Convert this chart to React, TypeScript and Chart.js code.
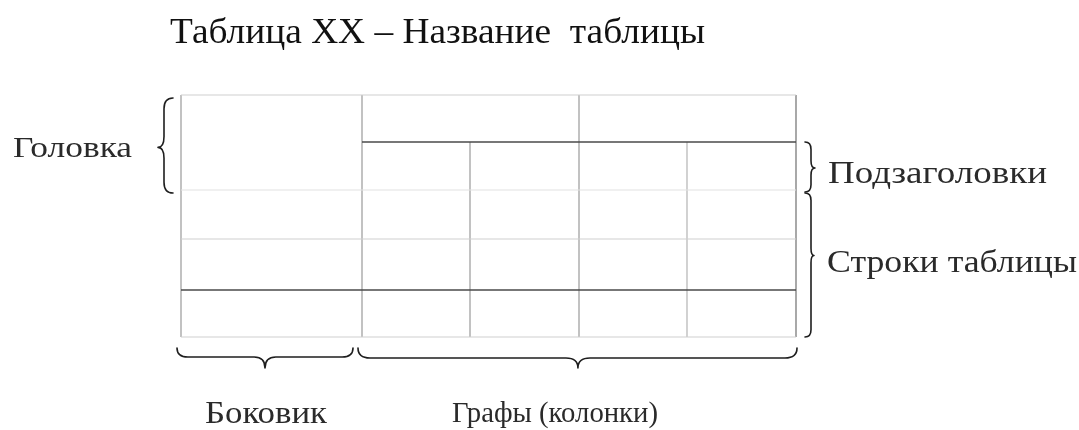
import { useEffect, useRef } from "react";
import { Chart, registerables } from "chart.js";

Chart.register(...registerables);

const W = 1079;
const H = 430;

// Table structure (chart units = canvas pixels of the reference)
const columnEdges = [181, 362, 470, 579, 687, 796];
const rowEdges = [95, 142, 190, 239, 290, 337];

// horizontal rules: [rowIndex, fromColumn, toColumn, tone]
const horizontalRules: [number, number, number, string][] = [
  [0, 0, 5, "faint"],
  [1, 1, 5, "dark"],
  [2, 0, 5, "faint2"],
  [3, 0, 5, "faint"],
  [4, 0, 5, "dark"],
  [5, 0, 5, "faint"],
];

// vertical rules: [columnIndex, fromRow, toRow, tone]
const verticalRules: [number, number, number, string][] = [
  [0, 0, 5, "mid"],
  [1, 0, 5, "mid"],
  [2, 1, 5, "mid"],
  [3, 0, 5, "mid"],
  [4, 1, 5, "light"],
  [5, 0, 5, "edge"],
];

const tones: Record<string, string> = {
  faint: "#cfcfcf",
  faint2: "#e2e2e2",
  dark: "#4a4a4a",
  mid: "#9a9a9a",
  light: "#b4b4b4",
  edge: "#707070",
};

// Labels
const titleText = "Таблица XX – Название  таблицы";
const labelTexts = ["Головка", "Подзаголовки", "Строки таблицы", "Боковик", "Графы (колонки)"];

// text layout: [x start, x end, baseline, font size]
const titleLayout: [number, number, number, number] = [170, 705, 43, 36];
const labelLayouts: [number, number, number, number][] = [
  [13, 132, 157, 29],
  [828, 1047, 183, 31],
  [827, 1077, 272, 32],
  [205, 327, 423, 31],
  [452, 658, 422, 29],
];

// Braces: from, to, spine offset, tip offset, tip position (fraction)
const braces = [
  { from: [173, 98], to: [173, 193], spine: 9, tip: 15, at: 0.52 },
  { from: [805, 192], to: [805, 142], spine: 6, tip: 10, at: 0.48 },
  { from: [805, 337], to: [805, 193], spine: 6, tip: 9, at: 0.566 },
  { from: [177, 348], to: [353, 348], spine: 9, tip: 20, at: 0.5 },
  { from: [358, 348], to: [797, 348], spine: 10, tip: 20, at: 0.501 },
];

function buildDatasets() {
  const ds: any[] = [];
  for (const [r, c0, c1, tone] of horizontalRules) {
    ds.push({
      data: [
        { x: columnEdges[c0], y: rowEdges[r] },
        { x: columnEdges[c1], y: rowEdges[r] },
      ],
      showLine: true,
      borderColor: tones[tone],
      borderWidth: tone === "dark" ? 1.5 : 1.2,
      pointRadius: 0,
    });
  }
  for (const [c, r0, r1, tone] of verticalRules) {
    ds.push({
      data: [
        { x: columnEdges[c], y: rowEdges[r0] },
        { x: columnEdges[c], y: rowEdges[r1] },
      ],
      showLine: true,
      borderColor: tones[tone],
      borderWidth: 1.2,
      pointRadius: 0,
    });
  }
  return ds;
}

const bracePlugin = {
  id: "braces",
  afterDatasetsDraw(chart: any) {
    const { ctx, scales } = chart;
    const px = (v: number) => scales.x.getPixelForValue(v);
    const py = (v: number) => scales.y.getPixelForValue(v);
    ctx.save();
    ctx.strokeStyle = "#1e1e1e";
    ctx.lineWidth = 1.6;
    ctx.lineCap = "round";
    ctx.lineJoin = "round";
    for (const b of braces) {
      const x1 = px(b.from[0]);
      const y1 = py(b.from[1]);
      const x2 = px(b.to[0]);
      const y2 = py(b.to[1]);
      const L = Math.hypot(x2 - x1, y2 - y1);
      const ang = Math.atan2(y2 - y1, x2 - x1);
      const h = b.spine;
      const d = b.tip;
      const t = b.at * L;
      const q = Math.min(h * 1.2, L / 6);
      ctx.save();
      ctx.translate(x1, y1);
      ctx.rotate(ang);
      ctx.beginPath();
      ctx.moveTo(0, 0);
      ctx.quadraticCurveTo(0, h, q, h);
      ctx.lineTo(t - q, h);
      ctx.quadraticCurveTo(t, h, t, d);
      ctx.quadraticCurveTo(t, h, t + q, h);
      ctx.lineTo(L - q, h);
      ctx.quadraticCurveTo(L, h, L, 0);
      ctx.stroke();
      ctx.restore();
    }
    ctx.restore();
  },
};

function drawFitted(ctx: any, text: string, x0: number, x1: number, base: number, size: number) {
  ctx.save();
  ctx.font = `${size}px "Liberation Serif", "DejaVu Serif", serif`;
  ctx.textBaseline = "alphabetic";
  ctx.textAlign = "left";
  const w = ctx.measureText(text).width;
  const sx = (x1 - x0) / w;
  ctx.translate(x0, base);
  ctx.scale(sx, 1);
  ctx.fillText(text, 0, 0);
  ctx.restore();
}

const textPlugin = {
  id: "labels",
  afterDraw(chart: any) {
    const { ctx, scales } = chart;
    const px = (v: number) => scales.x.getPixelForValue(v);
    const py = (v: number) => scales.y.getPixelForValue(v);
    ctx.save();
    ctx.fillStyle = "#111";
    drawFitted(ctx, titleText, px(titleLayout[0]), px(titleLayout[1]), py(titleLayout[2]), titleLayout[3]);
    ctx.fillStyle = "#2a2a2a";
    labelTexts.forEach((t, i) => {
      const l = labelLayouts[i];
      drawFitted(ctx, t, px(l[0]), px(l[1]), py(l[2]), l[3]);
    });
    ctx.restore();
  },
};

export default function App() {
  const ref = useRef<HTMLCanvasElement | null>(null);
  useEffect(() => {
    document.body.style.margin = "0";
    document.body.style.background = "#ffffff";
    const canvas = ref.current;
    if (!canvas) return;
    const chart = new Chart(canvas, {
      type: "scatter",
      data: { datasets: buildDatasets() },
      options: {
        animation: false,
        responsive: false,
        maintainAspectRatio: false,
        events: [],
        layout: { padding: 0 },
        plugins: {
          legend: { display: false },
          tooltip: { enabled: false },
          title: { display: false },
        },
        scales: {
          x: { type: "linear", min: 0, max: W, display: false },
          y: { type: "linear", min: 0, max: H, reverse: true, display: false },
        },
      },
      plugins: [bracePlugin, textPlugin],
    });
    return () => chart.destroy();
  }, []);
  return (
    <div style={{ width: W, height: H, background: "#fff" }}>
      <canvas ref={ref} width={W} height={H} style={{ display: "block", width: W, height: H }} />
    </div>
  );
}
